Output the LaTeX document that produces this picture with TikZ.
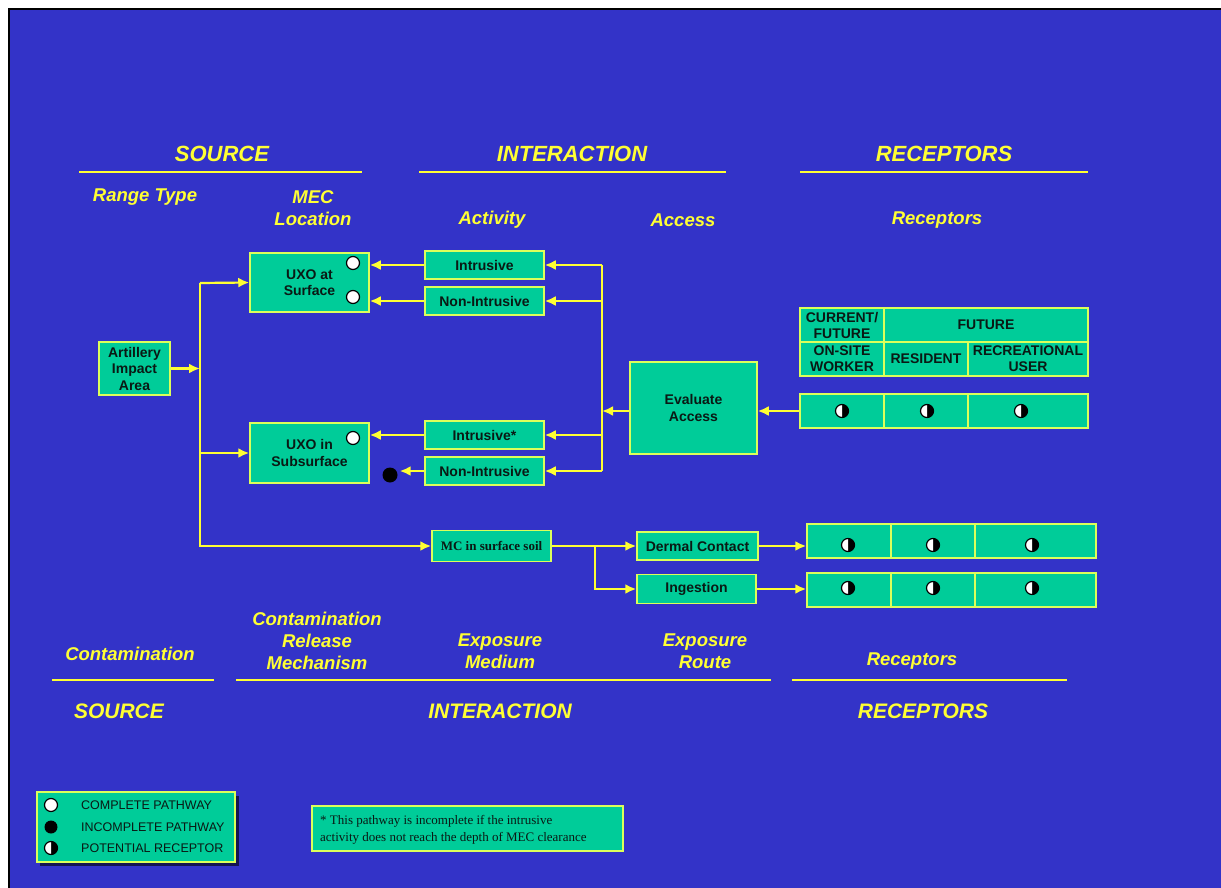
\documentclass[tikz,border=0pt]{standalone}
\usepackage{fontspec}
\setmainfont{Liberation Sans}
\newfontfamily\tnr{Liberation Serif}
\usetikzlibrary{arrows.meta}
\definecolor{bgblue}{RGB}{51,51,200}
\definecolor{grn}{RGB}{0,204,153}
\definecolor{yel}{RGB}{255,255,51}
\definecolor{bord}{RGB}{220,255,90}
\definecolor{txt}{RGB}{10,25,20}
\tikzset{
  box/.style={draw=bord, fill=grn, line width=1.5pt, text=txt, align=center, inner sep=0pt,
    font=\bfseries\fontsize{14}{16.5}\selectfont},
  cell/.style={box, font=\bfseries\fontsize{14}{16}\selectfont},
  wire/.style={draw=yel, line width=2.2pt},
  arr/.style={wire, -{Latex[length=11pt,width=10pt]}},
  hdr/.style={text=yel, font=\bfseries\itshape\fontsize{22}{24}\selectfont},
  hdrb/.style={text=yel, font=\bfseries\itshape\fontsize{21}{24}\selectfont},
  sub/.style={text=yel, align=center, font=\bfseries\itshape\fontsize{18.5}{22}\selectfont},
  rule/.style={draw=yel, line width=2.5pt},
  wdot/.style={circle, draw=black, fill=white, line width=1.2pt, minimum size=13pt, inner sep=0pt},
  bdot/.style={circle, fill=black, minimum size=15pt, inner sep=0pt},
  pics/halfdot/.style={code={
    \fill[black] (0,0) circle (6.5);
    \fill[white] (0,6.5) arc[start angle=90, end angle=270, radius=6.5];
    \draw[black, line width=1.2pt] (0,0) circle (6.5);
  }},
}
\begin{document}
\begin{tikzpicture}[x=1pt,y=-1pt]
\useasboundingbox (0,0) rectangle (1221,888);
\fill[white] (0,0) rectangle (1221,888);
\fill[bgblue] (9,9) rectangle (1221,888);
\draw[black, line width=1.5pt] (9,888) -- (9,9) -- (1221,9);

% top headers
\node[hdr] (hS) at (222,154) {SOURCE};
\node[hdr] (hI) at (572,154) {INTERACTION};
\node[hdr] (hR) at (944,154) {RECEPTORS};
\draw[rule] (79,172) -- (362,172);
\draw[rule] (419,172) -- (726,172);
\draw[rule] (800,172) -- (1088,172);
\node[sub] (sRT) at (145,197) {Range Type};
\node[sub] (sML) at (313,208) {MEC\\Location};
\node[sub] (sAc) at (492,220) {Activity};
\node[sub] (sAx) at (683,220) {Access};
\node[sub] (sRc) at (937,220) {Receptors};

% boxes
\node[box, minimum width=71pt, minimum height=53pt] (art) at (134.5,368.5) {Artillery\\Impact\\Area};
\node[box, minimum width=119pt, minimum height=59pt] (uxs) at (309.5,282.5) {UXO at\\Surface};
\node[box, minimum width=119pt, minimum height=60pt] (uxb) at (309.5,453) {UXO in\\Subsurface};
\node[box, minimum width=119pt, minimum height=28pt] (int1) at (484.5,265) {Intrusive};
\node[box, minimum width=119pt, minimum height=28pt] (non1) at (484.5,301) {Non-Intrusive};
\node[box, minimum width=119pt, minimum height=28pt] (int2) at (484.5,435) {Intrusive*};
\node[box, minimum width=119pt, minimum height=28pt] (non2) at (484.5,471) {Non-Intrusive};
\node[box, minimum width=127pt, minimum height=92pt] (eva) at (693.5,408) {Evaluate\\Access};
\node[box, minimum width=119pt, minimum height=31pt, font=\tnr\bfseries\fontsize{13}{15}\selectfont] (mc) at (491.5,546) {MC in surface soil};
\node[box, minimum width=121pt, minimum height=28pt] (der) at (697.5,546) {Dermal Contact};
\node[box, minimum width=119pt, minimum height=29pt] (ing) at (696.5,589) {Ingestion};

% pathway dots
\node[wdot] (c1) at (353,263) {};
\node[wdot] (c2) at (353,297) {};
\node[wdot] (c3) at (353,438) {};
\node[bdot] (dot1) at (390,475) {};

% receptor header table
\node[cell, minimum width=84pt, minimum height=34pt] (hc1) at (842,325) {CURRENT/\\FUTURE};
\node[cell, minimum width=204pt, minimum height=34pt] (hc2) at (986,325) {FUTURE};
\node[cell, minimum width=84pt, minimum height=34pt] (hc3) at (842,359) {ON-SITE\\WORKER};
\node[cell, minimum width=84pt, minimum height=34pt] (hc4) at (926,359) {RESIDENT};
\node[cell, minimum width=120pt, minimum height=34pt] (hc5) at (1028,359) {RECREATIONAL\\USER};

% receptor rows
\node[cell, minimum width=84pt, minimum height=34pt] (r1a) at (842,411) {};
\node[cell, minimum width=84pt, minimum height=34pt] (r1b) at (926,411) {};
\node[cell, minimum width=120pt, minimum height=34pt] (r1c) at (1028,411) {};
\node[cell, minimum width=84pt, minimum height=34pt] (d1) at (849,541) {};
\node[cell, minimum width=84pt, minimum height=34pt] (d2) at (933,541) {};
\node[cell, minimum width=121pt, minimum height=34pt] (d3) at (1035.5,541) {};
\node[cell, minimum width=84pt, minimum height=34pt] (g1) at (849,590) {};
\node[cell, minimum width=84pt, minimum height=34pt] (g2) at (933,590) {};
\node[cell, minimum width=121pt, minimum height=34pt] (g3) at (1035.5,590) {};
\pic at (842,411) {halfdot};
\pic at (927,411) {halfdot};
\pic at (1021,411) {halfdot};
\pic at (848,545) {halfdot};
\pic at (933,545) {halfdot};
\pic at (1032,545) {halfdot};
\pic at (848,588) {halfdot};
\pic at (933,588) {halfdot};
\pic at (1032,588) {halfdot};

% connectors left
\coordinate (vL1) at (200,283);
\coordinate (vL2) at (200,453);
\coordinate (vLm) at (200,368.5);
\draw[arr] (art.east) -- (vLm);
\draw[arr] (vL1) |- (mc.west);
\draw[arr] (vL1) -- (uxs.west);
\draw[arr] (vL2) -- (uxb.west);

% connectors right of activities
\coordinate (vR1) at (602,265);
\coordinate (vR4) at (602,471);
\draw[wire] (vR1) -- (vR4);
\draw[arr] (vR1) -- (int1.east);
\draw[arr] (vR1 |- non1.east) -- (non1.east);
\draw[arr] (vR1 |- int2.east) -- (int2.east);
\draw[arr] (vR4) -- (non2.east);
\draw[arr] (int1.west) -- (int1.west -| uxs.east);
\draw[arr] (non1.west) -- (non1.west -| uxs.east);
\draw[arr] (int2.west) -- (int2.west -| uxb.east);
\draw[arr] (non2.west) -- ([xshift=2pt]non2.west -| dot1.east);
\draw[arr] (eva.west |- r1a.west) -- (vR1 |- r1a.west);
\draw[arr] (r1a.west) -- (r1a.west -| eva.east);

% MC branch
\coordinate (br) at (595,546);
\draw[arr] (mc.east) -- (der.west);
\draw[arr] (br) |- (ing.west);
\draw[arr] (der.east) -- (der.east -| d1.west);
\draw[arr] (ing.east) -- (ing.east -| g1.west);

% bottom labels
\node[sub] (bC) at (130,654) {Contamination};
\node[sub] (bCR) at (317,641) {Contamination\\Release\\Mechanism};
\node[sub] (bEM) at (500,651) {Exposure\\Medium};
\node[sub] (bER) at (705,651) {Exposure\\Route};
\node[sub] (bRc) at (912,661) {Receptors};
\draw[rule] (52,680) -- (214,680);
\draw[rule] (236,680) -- (771,680);
\draw[rule] (792,680) -- (1067,680);
\node[hdrb] (bS) at (119,711) {SOURCE};
\node[hdrb] (bI) at (500,711) {INTERACTION};
\node[hdrb] (bR) at (923,711) {RECEPTORS};

% legend
\fill[black!60!bgblue] (40,796) rectangle (239,866);
\node[box, minimum width=198pt, minimum height=70pt, line width=2pt] (leg) at (136,827) {};
\node[wdot] (lc1) at (51,805) {};
\node[bdot, minimum size=13pt] (lc2) at (51,827) {};
\pic at (51,848) {halfdot};
\node[anchor=west, text=txt, font=\fontsize{12.5}{14}\selectfont, inner sep=0pt] (lt1) at (81,805) {COMPLETE PATHWAY};
\node[anchor=west, text=txt, font=\fontsize{12.5}{14}\selectfont, inner sep=0pt] (lt2) at (81,827) {INCOMPLETE PATHWAY};
\node[anchor=west, text=txt, font=\fontsize{12.5}{14}\selectfont, inner sep=0pt] (lt3) at (81,848) {POTENTIAL RECEPTOR};

% note
\node[box, minimum width=311pt, minimum height=45pt, line width=2pt] (note) at (467.5,828.5) {};
\node[anchor=west, align=left, text=txt, font=\tnr\fontsize{13}{17}\selectfont, inner sep=0pt] (nt) at (320,829.5) {* This pathway is incomplete if the intrusive\\activity does not reach the depth of MEC clearance};
\end{tikzpicture}
\end{document}
